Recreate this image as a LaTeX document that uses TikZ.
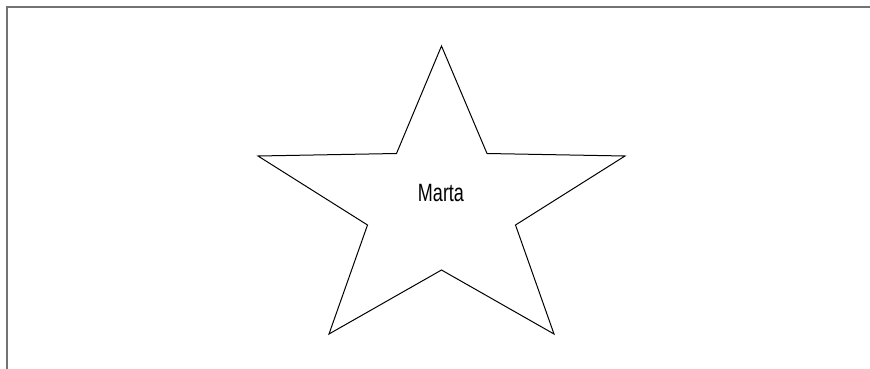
\documentclass[tikz,border=0pt]{standalone}
\usepackage{fontspec}
\newfontfamily\condsans[FakeStretch=0.72]{Liberation Sans}
\begin{document}
\begin{tikzpicture}[x=1pt,y=-1pt,
  framestyle/.style={draw=black!55,line width=1.8pt},
  starstyle/.style={draw=black,line width=1pt,line join=miter},
  labelstyle/.style={font=\condsans\fontsize{25}{29}\selectfont,text=black}]
\useasboundingbox (0,0) rectangle (870,369);
\coordinate (fb) at (6.75,369);
\coordinate (fc) at (6.75,6.75);
\coordinate (fr) at (870,6.75);
\draw[framestyle] (fb) -- (fc) -- (fr);
\coordinate (p1) at (441.5,46);
\coordinate (i1) at (487,153.5);
\coordinate (p2) at (625,156);
\coordinate (i2) at (515.5,225);
\coordinate (p3) at (554,334);
\coordinate (i3) at (441.5,270);
\coordinate (p4) at (329,334);
\coordinate (i4) at (367.5,225);
\coordinate (p5) at (258,156);
\coordinate (i5) at (396.5,153.5);
\draw[starstyle] (p1) -- (i1) -- (p2) -- (i2) -- (p3) -- (i3) -- (p4) -- (i4) -- (p5) -- (i5) -- cycle;
\node[labelstyle] (marta) at (441,193) {Marta};
\end{tikzpicture}
\end{document}
